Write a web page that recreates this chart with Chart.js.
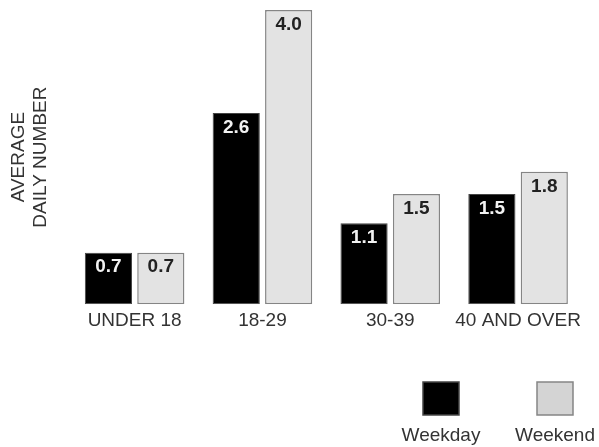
<!DOCTYPE html>
<html>
<head>
<meta charset="utf-8">
<script src="https://cdn.jsdelivr.net/npm/chart.js@4/dist/chart.umd.min.js"></script>
<style>
  html, body { margin: 0; padding: 0; background: #fff; }
  #wrap { width: 599px; height: 447px; }
</style>
</head>
<body>
<div id="wrap"><canvas id="ageChart"></canvas></div>
<script>
// chart values
const ageGroups = ['UNDER 18', '18-29', '30-39', '40 AND OVER'];
const weekdayValues = [0.7, 2.6, 1.1, 1.5];
const weekendValues = [0.7, 4.0, 1.5, 1.8];
const yTitle = ['AVERAGE', 'DAILY NUMBER'];

const FONT = '"Liberation Sans", Arial, sans-serif';

// value printed at the top, inside each bar
const barValues = {
    id: 'barValues',
    afterDatasetsDraw(chart) {
        const ctx = chart.ctx;
        ctx.save();
        ctx.font = 'bold 19px ' + FONT;
        ctx.textAlign = 'center';
        ctx.textBaseline = 'top';
        chart.data.datasets.forEach((ds, i) => {
            chart.getDatasetMeta(i).data.forEach((bar, j) => {
                ctx.fillStyle = ds.valueColor;
                ctx.fillText(ds.data[j].toFixed(1), bar.x, bar.y + 5);
            });
        });
        ctx.restore();
    }
};

// legend with the box above its label, bottom right
const boxLegend = {
    id: 'boxLegend',
    afterDraw(chart) {
        const ctx = chart.ctx;
        const centers = [441, 555];
        ctx.save();
        ctx.font = '19px ' + FONT;
        ctx.textAlign = 'center';
        ctx.textBaseline = 'middle';
        chart.data.datasets.forEach((ds, i) => {
            const cx = centers[i];
            ctx.fillStyle = ds.legendFill;
            ctx.fillRect(cx - 18, 382, 36, 33);
            ctx.lineWidth = 1.5;
            ctx.strokeStyle = ds.borderColor;
            ctx.strokeRect(cx - 18, 382, 36, 33);
            ctx.fillStyle = '#333';
            ctx.fillText(ds.label, cx, 436);
        });
        ctx.restore();
    }
};

new Chart(document.getElementById('ageChart'), {
    type: 'bar',
    data: {
        labels: ageGroups,
        datasets: [{
            label: 'Weekday',
            data: weekdayValues,
            backgroundColor: '#000',
            borderColor: '#444',
            borderWidth: 1,
            borderSkipped: false,
            valueColor: '#f2f2f2',
            legendFill: '#000'
        }, {
            label: 'Weekend',
            data: weekendValues,
            backgroundColor: '#e3e3e3',
            borderColor: '#858585',
            borderWidth: 1.5,
            borderSkipped: false,
            valueColor: '#222',
            legendFill: '#d4d4d4'
        }]
    },
    options: {
        responsive: true,
        maintainAspectRatio: false,
        animation: false,
        categoryPercentage: 0.82,
        barPercentage: 0.9,
        layout: { padding: { left: 4, right: 17, top: 10, bottom: 110 } },
        plugins: {
            legend: { display: false },
            tooltip: { enabled: false }
        },
        scales: {
            x: {
                grid: { display: false, drawTicks: false },
                border: { display: false },
                ticks: {
                    color: '#333',
                    font: { family: FONT, size: 19 },
                    padding: 5,
                    minRotation: 0,
                    maxRotation: 0,
                    autoSkip: false
                }
            },
            y: {
                min: 0,
                max: 4,
                grid: { display: false, drawTicks: false },
                border: { display: false },
                ticks: { display: false },
                title: {
                    display: true,
                    text: yTitle,
                    color: '#333',
                    font: { family: FONT, size: 19, lineHeight: 1.15 },
                    padding: { top: 4, bottom: 19 }
                }
            }
        }
    },
    plugins: [barValues, boxLegend]
});
</script>
</body>
</html>
